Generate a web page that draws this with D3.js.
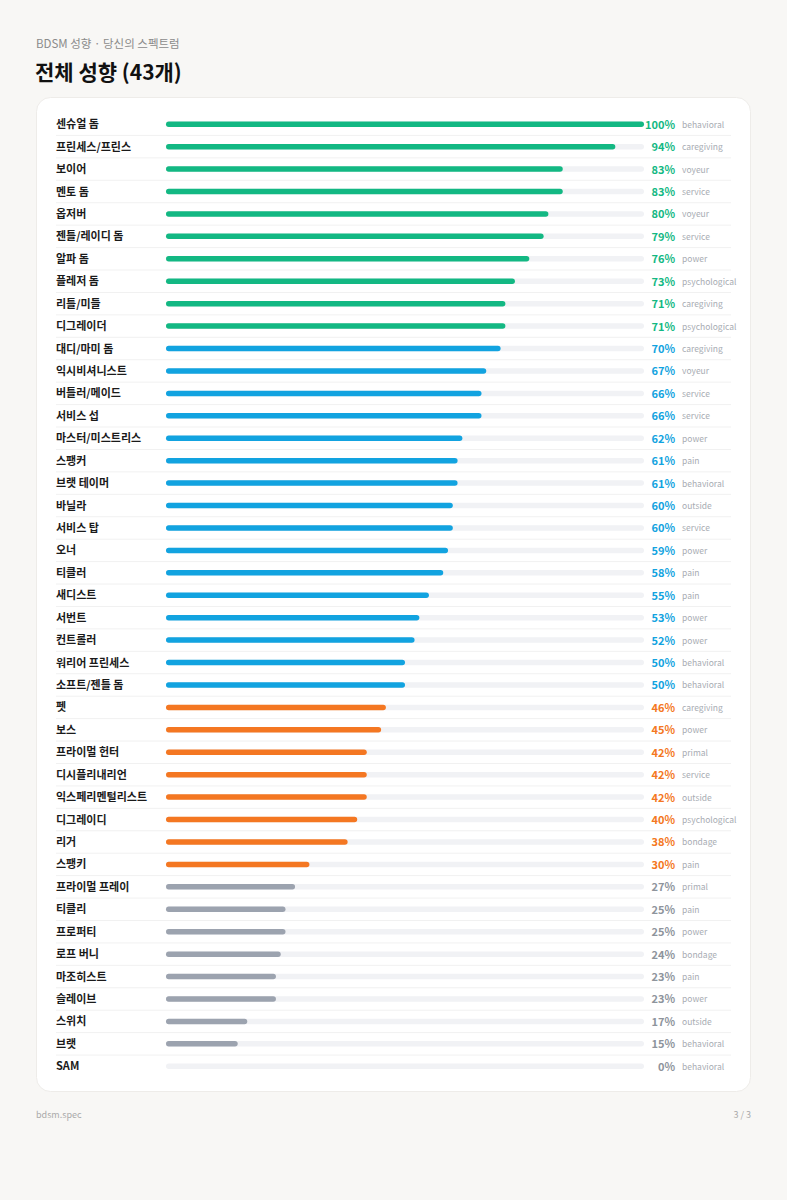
<!DOCTYPE html>
<html><head><meta charset="utf-8">
<script src="https://cdn.jsdelivr.net/npm/d3@7"></script>
<style>
html,body{margin:0;padding:0;background:#f8f7f5;}
svg{display:block;font-family:"Noto Sans CJK KR","Noto Sans",sans-serif;}
</style></head>
<body><div id="chart"></div>
<script>
const labels = ["센슈얼 돔","프린세스/프린스","보이어","멘토 돔","옵저버","젠틀/레이디 돔","알파 돔","플레저 돔","리틀/미들","디그레이더","대디/마미 돔","익시비셔니스트","버틀러/메이드","서비스 섭","마스터/미스트리스","스팽커","브랫 테이머","바닐라","서비스 탑","오너","티클러","새디스트","서번트","컨트롤러","워리어 프린세스","소프트/젠틀 돔","펫","보스","프라이멀 헌터","디시플리내리언","익스페리멘털리스트","디그레이디","리거","스팽키","프라이멀 프레이","티클리","프로퍼티","로프 버니","마조히스트","슬레이브","스위치","브랫","SAM"];
const values = [100,94,83,83,80,79,76,73,71,71,70,67,66,66,62,61,61,60,60,59,58,55,53,52,50,50,46,45,42,42,42,40,38,30,27,25,25,24,23,23,17,15,0];
const categories = ["behavioral","caregiving","voyeur","service","voyeur","service","power","psychological","caregiving","psychological","caregiving","voyeur","service","service","power","pain","behavioral","outside","service","power","pain","pain","power","power","behavioral","behavioral","caregiving","power","primal","service","outside","psychological","bondage","pain","primal","pain","power","bondage","pain","power","outside","behavioral","behavioral"];
const tierBreaks = [30, 50, 71];
const tierColors = ["#9ca3af","#f47722","#12a3e0","#13b883"];

const W = 787, H = 1200;
const svg = d3.select("#chart").append("svg").attr("width", W).attr("height", H);
svg.append("rect").attr("width", W).attr("height", H).attr("fill", "#f8f7f5");

svg.append("text").attr("x", 36).attr("y", 48).attr("font-size", 11.5).attr("fill", "#8b8b8b")
  .text("BDSM 성향 · 당신의 스펙트럼");
svg.append("text").attr("x", 35).attr("y", 80).attr("font-size", 21).attr("font-weight", 700).attr("fill", "#111")
  .text("전체 성향 (43개)");

svg.append("rect").attr("x", 36.5).attr("y", 97.5).attr("width", 714).attr("height", 994)
  .attr("rx", 14).attr("fill", "#fff").attr("stroke", "#eeece9");

const y = d3.scaleBand().domain(d3.range(labels.length)).range([113, 1077.5]).paddingInner(0);
const x = d3.scaleLinear().domain([0, 100]).range([166, 644]);
const color = d3.scaleThreshold().domain(tierBreaks).range(tierColors);

const rows = svg.append("g").selectAll("g").data(labels.map((l, i) => ({l, v: values[i], c: categories[i], i})))
  .join("g").attr("transform", d => `translate(0,${y(d.i) + y.bandwidth() / 2})`);

rows.filter(d => d.i < labels.length - 1).append("line")
  .attr("x1", 56).attr("x2", 731).attr("y1", y.bandwidth() / 2).attr("y2", y.bandwidth() / 2)
  .attr("stroke", "#f1f1f1").attr("stroke-width", 1);

rows.append("text").attr("x", 56).attr("y", 4).attr("font-size", 11).attr("font-weight", 700).attr("fill", "#1a1a1a")
  .text(d => d.l);

const bh = 5.5;
rows.append("rect").attr("x", x(0)).attr("y", -bh / 2).attr("width", x(100) - x(0)).attr("height", bh)
  .attr("rx", bh / 2).attr("fill", "#f1f2f5");
rows.filter(d => d.v > 0).append("rect").attr("x", x(0)).attr("y", -bh / 2).attr("width", d => x(d.v) - x(0)).attr("height", bh)
  .attr("rx", bh / 2).attr("fill", d => color(d.v));

rows.append("text").attr("x", 675).attr("y", 4.5).attr("text-anchor", "end").attr("font-size", 11).attr("font-weight", 600)
  .attr("textLength", null)
  .attr("fill", d => d.v < tierBreaks[0] ? "#8e949c" : color(d.v)).text(d => d.v + "%");
rows.append("text").attr("x", 682).attr("y", 3.5).attr("font-size", 8.5).attr("fill", "#a8acb3")
  .text(d => d.c);

svg.append("text").attr("x", 36).attr("y", 1118).attr("font-size", 9).attr("fill", "#aaa").text("bdsm.spec");
svg.append("text").attr("x", 751).attr("y", 1118).attr("text-anchor", "end").attr("font-size", 9).attr("fill", "#aaa").text("3 / 3");
</script></body></html>
